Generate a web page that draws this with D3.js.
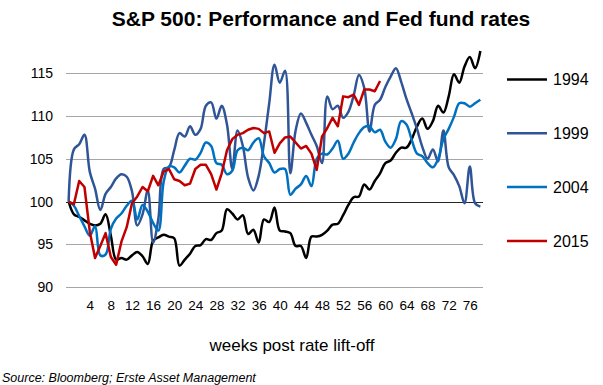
<!DOCTYPE html>
<html>
<head>
<meta charset="utf-8">
<script src="https://cdn.jsdelivr.net/npm/d3@7"></script>
<style>
  body { margin: 0; background: #fff; }
  svg { display: block; font-family: 'Liberation Sans', Arial, sans-serif; }
</style>
</head>
<body>
<div id="chart"></div>
<script>
const weeks = [0, 1, 2, 3, 4, 5, 6, 7, 8, 9, 10, 11, 12, 13, 14, 15, 16, 17, 18, 19,
  20, 21, 22, 23, 24, 25, 26, 27, 28, 29, 30, 31, 32, 33, 34, 35, 36, 37, 38, 39,
  40, 41, 42, 43, 44, 45, 46, 47, 48, 49, 50, 51, 52, 53, 54, 55, 56, 57, 58, 59,
  60, 61, 62, 63, 64, 65, 66, 67, 68, 69, 70, 71, 72, 73, 74, 75, 76, 77, 78];
const xTickWeeks = [4, 8, 12, 16, 20, 24, 28, 32, 36, 40, 44, 48, 52, 56, 60, 64, 68, 72, 76];
const yTicks = [90, 95, 100, 105, 110, 115];

const seriesNames = ['1994', '1999', '2004', '2015'];

const s1994 = [100, 98.5, 98.2, 97.8, 97.4, 97.2, 97.4, 98.5, 96, 93.2,
  93.4, 93.2, 93.7, 94.1, 93.6, 92.7, 95.4, 95.8, 96.1, 95.9,
  95.7, 92.5, 93.2, 93.9, 94.8, 94.9, 95.6, 95.5, 96.3, 96.6,
  99.1, 98.6, 97.9, 98.4, 96.2, 96.7, 95.2, 97.9, 97.6, 99.3,
  96.6, 96.5, 96.3, 94.8, 94.8, 93.4, 95.9, 95.9, 96.1, 96.6,
  97.3, 97.4, 98.4, 99.6, 100.5, 100.6, 102, 101.4, 102.4, 103.3,
  104.5, 104.8, 105.7, 106.3, 106.3, 107.3, 108.8, 109.7, 108.5, 109.4,
  111.2, 110.4, 112.3, 114.9, 113.9, 115.8, 116.9, 115.6, 117.6];

const s1999 = [100, 106.1, 106.7, 107.8, 103.5, 101.5, 99, 100.9, 101.7, 102.7,
  103.2, 102.9, 101.2, 97.2, 98.5, 101.3, 95.2, 98, 103.8, 104,
  106, 108, 107.6, 108.8, 107.8, 108.5, 111.2, 111.6, 109.7, 111.2,
  109, 103.8, 108.3, 106.5, 102.8, 101.3, 103, 106.8, 111.5, 116,
  113.9, 115.3, 103.3, 108.3, 110.3, 109.2, 107.8, 106.5, 104.5, 112.3,
  110.8, 111.2, 109.8, 110.5, 112.4, 114.8, 113.3, 108.2, 111.3, 111.9,
  113.4, 114.6, 115.6, 114, 112, 110.3, 108.5, 106.4, 105, 106.1,
  104.7, 108.3, 104, 103.1, 101.8, 99.8, 104.1, 99.8, 99.4];

const s2004 = [100, 99.5, 98.3, 97.1, 96, 97.1, 93.7, 93.8, 96.8, 98,
  98.6, 99.5, 100.1, 97.9, 99.6, 98.8, 97.5, 96.6, 102.3, 104.1,
  104, 103.4, 104.2, 105, 104.9, 105.7, 106.9, 106.5, 104.5, 104.3,
  103.2, 103.6, 106, 106.3, 106, 106.9, 107.4, 105.3, 104.5, 103.4,
  103.8, 103.8, 100.8, 101.5, 102, 103, 101.8, 105, 105.6, 105.5,
  106.2, 107.1, 105, 105.6, 106.9, 108, 108.7, 108.8, 108.1, 108.4,
  107, 106.3, 107.3, 109.4, 109, 107.2, 105.6, 105.3, 104.5, 104,
  105, 107.3, 108.5, 109.9, 111.5, 111.5, 111.1, 111.5, 111.9];

const s2015 = [100, 99.7, 102.4, 101.7, 96.5, 93.4, 94.8, 96.3, 93.5, 92.6,
  95.3, 97, 99.8, 100.6, 101.7, 101.2, 103, 101.9, 103.5, 103.8,
  102.6, 102.4, 101.9, 102.1, 103.8, 104.3, 104.3, 103.2, 101.4, 103.3,
  106, 107.3, 107.8, 108, 108.4, 108.6, 108.5, 108, 108.2, 105.7,
  106.8, 107.5, 107.6, 106.9, 106.2, 106.5, 105.6, 103.7, 107.6, 108.6,
  109.8, 108.8, 112.3, 112.2, 112.5, 111.3, 113.1, 113.1, 112.9, 114.1];

const seriesValues = [s1994, s1999, s2004, s2015];

const lineColors = ['#000000', '#2f5597', '#0070c0', '#c00000'];
const lineCurves = [d3.curveCatmullRom, d3.curveCatmullRom, d3.curveCatmullRom, d3.curveLinear];

const width = 603;
const height = 385;

const svg = d3.select('#chart')
  .append('svg')
  .attr('width', width)
  .attr('height', height);

const scaleX = d3.scalePoint()
  .domain(weeks)
  .range([66, 483])
  .padding(0.5);

const scaleY = d3.scaleLinear()
  .domain([90, 115])
  .range([287, 73.3]);

svg.append('text')
  .text('S&P 500: Performance and Fed fund rates')
  .attr('x', 321)
  .attr('y', 26)
  .attr('text-anchor', 'middle')
  .attr('font-weight', 'bold')
  .attr('font-size', '21px')
  .attr('fill', '#000');

// gridlines
const grid = svg.append('g')
  .attr('transform', 'translate(66,0)')
  .call(d3.axisLeft(scaleY).tickValues(yTicks).tickSize(-417).tickFormat(''));
grid.select('.domain').remove();
grid.selectAll('line')
  .attr('stroke', d => d === 100 ? '#262626' : '#a6a6a6')
  .attr('stroke-width', 1)
  .attr('shape-rendering', 'crispEdges');

const yAxis = svg.append('g')
  .attr('transform', 'translate(66,0)')
  .call(d3.axisLeft(scaleY).tickValues(yTicks).tickSize(0).tickPadding(13));
yAxis.select('.domain').remove();
yAxis.selectAll('text')
  .attr('font-size', '14px')
  .attr('font-family', "'Liberation Sans', Arial, sans-serif")
  .attr('fill', '#000');

const xAxis = svg.append('g')
  .attr('transform', 'translate(0,287)')
  .call(d3.axisBottom(scaleX).tickValues(xTickWeeks).tickSize(0).tickPadding(13));
xAxis.select('.domain').remove();
xAxis.selectAll('text')
  .attr('font-size', '13.5px')
  .attr('font-family', "'Liberation Sans', Arial, sans-serif")
  .attr('fill', '#000');

const groupLines = svg.append('g').attr('class', 'lines');

seriesValues.forEach((values, i) => {
  const line = d3.line()
    .x((d, j) => scaleX(weeks[j]))
    .y(d => scaleY(d))
    .curve(lineCurves[i]);

  groupLines.append('path')
    .datum(values)
    .attr('d', line)
    .attr('fill', 'none')
    .attr('stroke', lineColors[i])
    .attr('stroke-width', 2.5)
    .attr('stroke-linejoin', 'round');
});

const legend = svg.append('g').attr('class', 'legend');

const legendItems = legend.selectAll('g')
  .data(seriesNames)
  .enter()
  .append('g')
  .attr('transform', (d, i) => 'translate(507,' + (79.5 + i * 53.8) + ')');

legendItems.append('line')
  .attr('x1', 0)
  .attr('x2', 40)
  .attr('stroke', (d, i) => lineColors[i])
  .attr('stroke-width', 2.5);

legendItems.append('text')
  .text(d => d)
  .attr('x', 46)
  .attr('dy', '0.36em')
  .attr('font-size', '16px')
  .attr('fill', '#000');

svg.append('text')
  .text('weeks post rate lift-off')
  .attr('x', 292)
  .attr('y', 351)
  .attr('text-anchor', 'middle')
  .attr('font-size', '17px')
  .attr('fill', '#000');

svg.append('text')
  .text('Source: Bloomberg; Erste Asset Management')
  .attr('x', 2)
  .attr('y', 382)
  .attr('font-size', '12.5px')
  .attr('font-style', 'italic')
  .attr('fill', '#000');
</script>
</body>
</html>
